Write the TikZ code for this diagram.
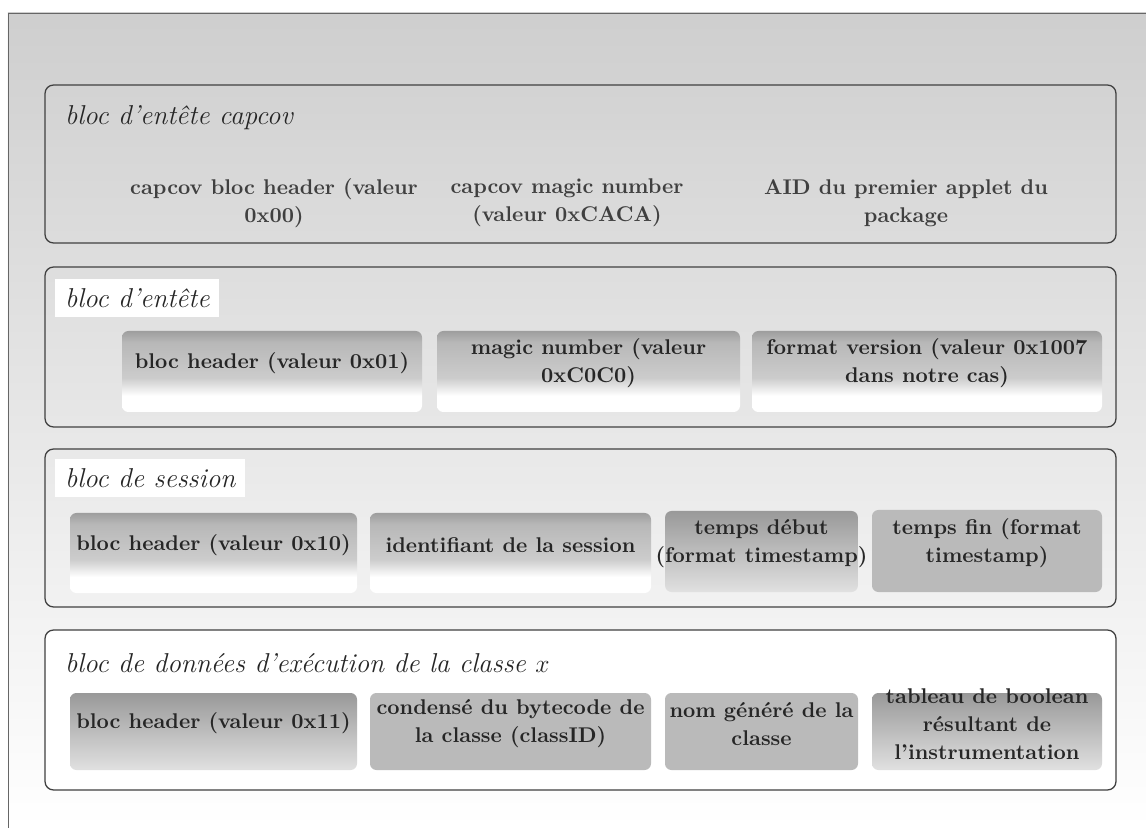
\documentclass[tikz,border=0pt]{standalone}
\usetikzlibrary{fit}

% degrade gris (haut) vers blanc (bas) des champs
\pgfdeclareverticalshading{degrade}{100bp}{color(0bp)=(white); color(25bp)=(white); color(35bp)=(white); color(46bp)=(black!20); color(68bp)=(black!28); color(75bp)=(black!38); color(100bp)=(black!38)}

\tikzset{
  bloc/.style={draw=black!75, line width=0.6pt, rounded corners=4pt, inner sep=0pt},
  titre/.style={font=\fontsize{12.8}{15}\itshape, anchor=west, inner sep=4.5pt, text=black!85},
  champ/.style={rounded corners=3pt, inner sep=0pt, font=\fontsize{10}{13.2}\bfseries, align=center, text=black!85},
  grad/.style={champ, shade, shading=degrade},
  uni/.style={champ, fill=black!27},
  fonce/.style={champ, top color=black!40, bottom color=black!12},
}

\begin{document}
\begin{tikzpicture}[x=0.0165cm, y=-0.0165cm]
  \useasboundingbox (0,0) rectangle (1146,828);

  % Fond de la page
  \shade[top color=black!19, middle color=black!15, bottom color=white] (8,13) rectangle (1146,828);
  \draw[black!60] (8,828) -- (8,13) -- (1146,13);

  % Bloc d'entete capcov
  \node[bloc, fit={(45,85) (1116,243)}] (capcov) {};
  \node[titre] (t-capcov) at (55,118) {bloc d'entête capcov};
  \node[champ, text=black!75] (cc1) at (274,203) {capcov bloc header (valeur\\0x00)};
  \node[champ, text=black!75] (cc2) at (567,203) {capcov magic number\\(valeur 0xCACA)};
  \node[champ, text=black!75] (cc3) at (906,203) {AID du premier applet du\\package};

  % Bloc d'entete
  \node[bloc, fit={(45,267) (1116,427)}] (entete) {};
  \node[titre, fill=white] (t-entete) at (55,298) {bloc d'entête};
  \node[grad, fit={(122,331) (422,412)}] (en1) {bloc header (valeur 0x01)};
  \node[grad, fit={(437,331) (740,412)}] (en2) {magic number (valeur\\0xC0C0)};
  \node[grad, fit={(752,331) (1102,412)}] (en3) {format version (valeur 0x1007\\dans notre cas)};

  % Bloc de session
  \node[bloc, fit={(45,449) (1116,607)}] (session) {};
  \node[titre, fill=white] (t-session) at (55,478) {bloc de session};
  \node[grad, fit={(70,513) (357,593)}] (se1) {bloc header (valeur 0x10)};
  \node[grad, fit={(370,513) (651,593)}] (se2) {identifiant de la session};
  \node[fonce, fit={(665,511) (858,592)}, text width=3.7cm, inner xsep=-0.26cm] (se3) {temps début\\(format timestamp)};
  \node[uni, fit={(872,510) (1102,592)}] (se4) {temps fin (format\\timestamp)};

  % Bloc de donnees d'execution
  \node[bloc, fill=white, fit={(45,630) (1116,790)}] (donnees) {};
  \node[titre] (t-donnees) at (55,663) {bloc de données d'exécution de la classe $x$};
  \node[fonce, fit={(70,693) (357,770)}] (do1) {bloc header (valeur 0x11)};
  \node[uni, fit={(370,693) (651,770)}] (do2) {condensé du bytecode de\\la classe (classID)};
  \node[uni, fit={(665,693) (858,770)}] (do3) {nom généré de la\\classe};
  \node[fonce, fit={(872,693) (1102,770)}] (do4) {tableau de boolean\\résultant de\\l'instrumentation};
\end{tikzpicture}
\end{document}
